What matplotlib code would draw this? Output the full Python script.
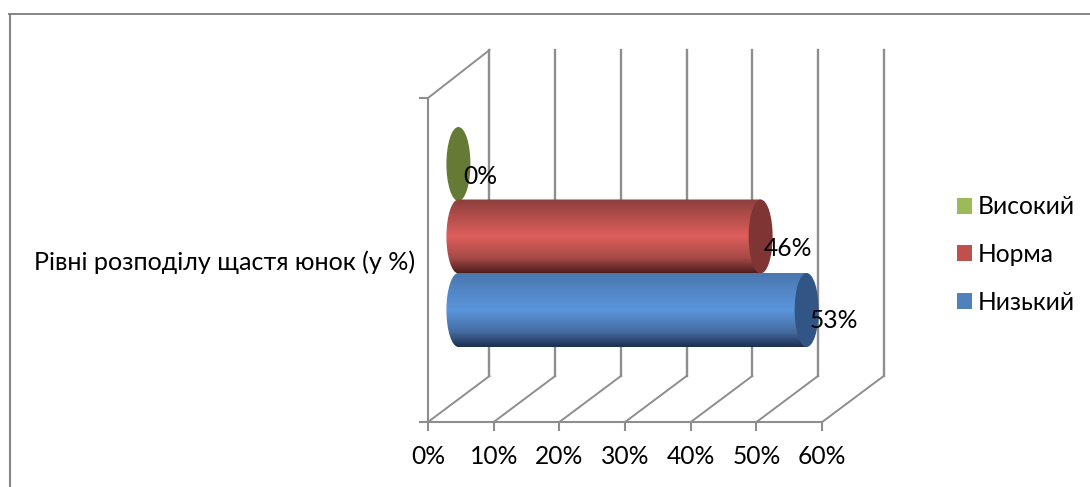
import numpy as np
import matplotlib
matplotlib.use('Agg')
import matplotlib.pyplot as plt
from matplotlib.colors import LinearSegmentedColormap
from matplotlib.patches import Ellipse, PathPatch, Patch
from matplotlib.path import Path

plt.rcParams['font.family'] = ['Lato', 'Noto Sans', 'DejaVu Sans']

category = 'Рівні розподілу щастя юнок (у %)'
series = ['Низький', 'Норма', 'Високий']
values = [53, 46, 0]
value_labels = ['53%', '46%', '0%']
x_ticks = [0, 10, 20, 30, 40, 50, 60]
x_tick_labels = ['0%', '10%', '20%', '30%', '40%', '50%', '60%']

legend_colors = ['#4f81bd', '#c0504d', '#9bbb59']
gradients = [
    ['#4a77af', '#5b96dc', '#456b9f', '#1c2f4f'],
    ['#8c3f3c', '#de5f5c', '#a54946', '#4f1f1d'],
    ['#647a35', '#647a35', '#647a35', '#647a35'],
]
cap_colors = ['#315585', '#7f3533', '#647a35']

# one percent on the x axis is this many pixels
px_per_pct = 6.57
x0_px = 428
depth = 61.5 / px_per_pct      # floor depth in percent units
wall_top, wall_bottom = 50, 376
front_top, front_bottom = 98, 422
grid_color = '#8e8e8e'
font_size = 17.7


def px(x):
    # figure pixel to percent units
    return (x - x0_px) / px_per_pct


fig = plt.figure(figsize=(10.9, 4.87), dpi=100)
ax = fig.add_axes([0, 0, 1, 1])
ax.set_xlim(px(0), px(1090))
ax.set_ylim(487, 0)
ax.axis('off')

# outer chart frame, only left and top edges are visible
ax.plot([px(10), px(10)], [487, 14], color='#868686', lw=1.5, zorder=1)
ax.plot([px(9), px(1090)], [14, 14], color='#868686', lw=1.4, zorder=1)

# back wall and floor
for t, lab in zip(x_ticks, x_tick_labels):
    ax.plot([t + depth, t + depth], [wall_top, wall_bottom], color=grid_color, lw=1.7, zorder=1)
    ax.plot([t, t + depth], [front_bottom, wall_bottom], color=grid_color, lw=1.4, zorder=1)
    ax.plot([t, t], [front_bottom, front_bottom + 8], color=grid_color, lw=1.5, zorder=1)
    ax.text(t, 457, lab, ha='center', va='center', fontsize=font_size, color='black')

# side wall and axes
ax.plot([0, depth], [front_top, wall_top], color=grid_color, lw=1.4, zorder=1)
ax.plot([0, 0], [front_top, front_bottom], color=grid_color, lw=1.5, zorder=1)
ax.plot([px(420), x_ticks[-1]], [front_bottom, front_bottom], color=grid_color, lw=1.5, zorder=1)
ax.plot([px(420), 0], [front_top, front_top], color=grid_color, lw=1.5, zorder=1)

# cylinders, back one first
bar_tops = [273, 199.5, 127]
bar_height = 74
cap_w = 24 / px_per_pct
mid_depth = depth / 2 - 0.05
for z, i in enumerate([2, 1, 0]):
    top = bar_tops[i]
    bottom = top + bar_height
    mid = (top + bottom) / 2
    xc0 = mid_depth
    xc1 = mid_depth + values[i]
    zz = 3 + z * 3
    if values[i] > 0:
        k = 0.5523
        a = cap_w / 2
        b = bar_height / 2
        verts = [(xc0, top), (xc1, top), (xc1, bottom), (xc0, bottom),
                 (xc0 - k * a, bottom), (xc0 - a, mid + k * b), (xc0 - a, mid),
                 (xc0 - a, mid - k * b), (xc0 - k * a, top), (xc0, top)]
        codes = [Path.MOVETO, Path.LINETO, Path.LINETO, Path.LINETO,
                 Path.CURVE4, Path.CURVE4, Path.CURVE4,
                 Path.CURVE4, Path.CURVE4, Path.CURVE4]
        body = PathPatch(Path(verts, codes), fc='none', ec='none', zorder=zz)
        ax.add_patch(body)
        cmap = LinearSegmentedColormap.from_list('cyl', list(zip([0, 0.5, 0.8, 1], gradients[i])))
        shade = np.linspace(0, 1, 128).reshape(-1, 1)
        im = ax.imshow(shade, cmap=cmap, aspect='auto', zorder=zz,
                       extent=[xc0 - a, xc1, bottom, top], interpolation='bilinear')
        im.set_clip_path(body)
    ax.add_patch(Ellipse((xc1, mid), cap_w, bar_height, fc=cap_colors[i], ec='none', zorder=zz + 1))

# imshow resets the limits
ax.set_xlim(px(0), px(1090))
ax.set_ylim(487, 0)

# data labels
for i, y, off in zip(range(3), [320, 249, 176], [4.1, 4.1, 3.3]):
    ax.text(values[i] + mid_depth + off, y, value_labels[i], ha='center', va='center',
            fontsize=font_size, color='black', zorder=20)

ax.text(px(225), 262, category, ha='center', va='center', fontsize=18.1, color='black')

# legend, top entry is the last series
handles = [Patch(fc=legend_colors[i], ec='none', label=series[i]) for i in reversed(range(3))]
leg = ax.legend(handles=handles, loc='center left', bbox_to_anchor=(957 / 1090, 1 - 254.5 / 487),
                frameon=False, fontsize=font_size, handlelength=0.61, handleheight=0.61,
                handletextpad=0.23, labelspacing=1.0, borderpad=0, borderaxespad=0)
leg.set_zorder(20)

fig.savefig('out.png', dpi=100)
